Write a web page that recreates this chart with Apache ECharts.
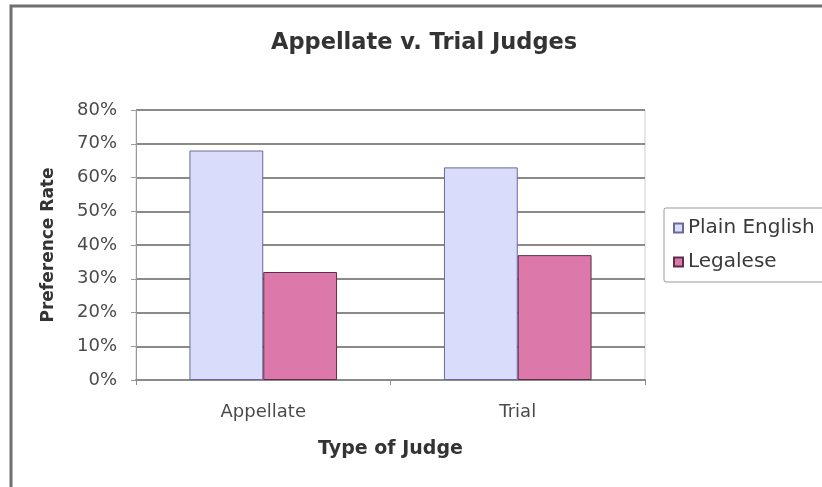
<!DOCTYPE html>
<html>
<head>
<meta charset="utf-8">
<script src="https://cdn.jsdelivr.net/npm/echarts@6/dist/echarts.min.js"></script>
<style>
html,body{margin:0;padding:0;background:#fff;}
#chart{width:822px;height:487px;}
</style>
</head>
<body>
<div id="chart"></div>
<script>
const categories = ['Appellate', 'Trial'];
const plainEnglish = [68, 63];
const legalese = [32, 37];
const seriesNames = ['Plain English', 'Legalese'];
const titleText = 'Appellate v. Trial Judges';
const xAxisName = 'Type of Judge';
const yAxisName = 'Preference Rate';

const FONT = '"DejaVu Sans", sans-serif';
const chart = echarts.init(document.getElementById('chart'), null, {renderer: 'canvas'});
chart.setOption({
  animation: false,
  backgroundColor: '#fff',
  graphic: [{
    type: 'rect',
    shape: {x: 11, y: 6, width: 900, height: 600},
    style: {fill: 'none', stroke: '#707070', lineWidth: 3},
    silent: true,
    z: -10
  }],
  title: {
    text: titleText,
    left: 266,
    top: 27,
    textStyle: {fontFamily: FONT, fontSize: 22.5, fontWeight: 'bold', color: '#333'}
  },
  legend: {
    orient: 'vertical',
    left: 664,
    top: 208,
    padding: [8, 14, 8, 9],
    itemGap: 10,
    itemWidth: 9,
    itemHeight: 9,
    itemTextGap: 13,
    borderColor: '#999',
    borderWidth: 1,
    borderRadius: 2,
    icon: 'rect',
    textStyle: {fontFamily: FONT, fontSize: 20, color: '#3a3a3a', lineHeight: 24},
    data: seriesNames
  },
  grid: {
    left: 136, right: 177, top: 110, bottom: 107,
    show: true, borderColor: '#cfcfcf', borderWidth: 1, backgroundColor: '#fff'
  },
  xAxis: {
    type: 'category',
    data: categories,
    name: xAxisName,
    nameLocation: 'middle',
    nameGap: 60,
    nameTextStyle: {fontFamily: FONT, fontSize: 19, fontWeight: 'bold', color: '#333'},
    axisLine: {lineStyle: {color: '#8a8a8a', width: 2}},
    axisTick: {show: true, length: 5, lineStyle: {color: '#8a8a8a'}},
    axisLabel: {fontFamily: FONT, fontSize: 18, color: '#4a4a4a', margin: 23},
    splitLine: {show: false}
  },
  yAxis: {
    type: 'value',
    min: 0, max: 80, interval: 10,
    name: yAxisName,
    nameLocation: 'middle',
    nameGap: 79,
    nameTextStyle: {fontFamily: FONT, fontSize: 17, fontWeight: 'bold', color: '#333'},
    axisLine: {show: true, lineStyle: {color: '#9a9a9a', width: 1}},
    axisTick: {show: true, length: 5, lineStyle: {color: '#9a9a9a'}},
    axisLabel: {fontFamily: FONT, fontSize: 18, color: '#4a4a4a', margin: 19, formatter: '{value}%'},
    splitLine: {show: true, lineStyle: {color: '#8a8a8a', width: 2}}
  },
  series: [
    {
      name: seriesNames[0],
      type: 'bar',
      data: plainEnglish,
      barGap: '0%',
      barCategoryGap: '42%',
      itemStyle: {color: '#dadcfb', borderColor: '#6a6a9a', borderWidth: 1}
    },
    {
      name: seriesNames[1],
      type: 'bar',
      data: legalese,
      itemStyle: {color: '#dd79aa', borderColor: '#5a3048', borderWidth: 1}
    }
  ]
});
</script>
</body>
</html>
